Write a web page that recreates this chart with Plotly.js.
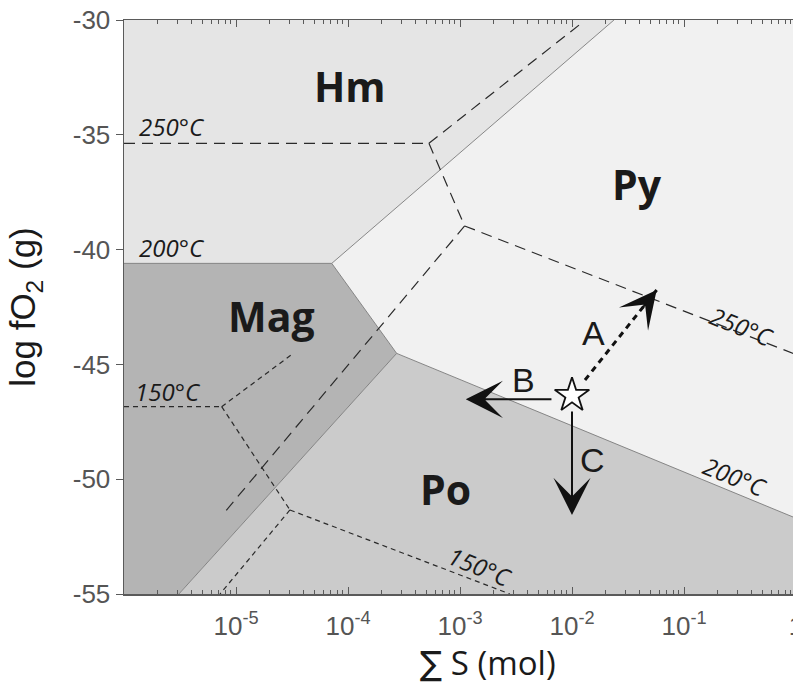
<!DOCTYPE html>
<html>
<head>
<meta charset="utf-8">
<script src="https://cdn.plot.ly/plotly-3.0.1.min.js"></script>
<style>
  html, body { margin: 0; padding: 0; overflow: hidden; background: #fff; }
  #chart { width: 800px; height: 686px; }
</style>
</head>
<body>
<div id="chart"></div>
<script>
// Fe–S–O stability fields: log fO2 (g) vs total sulfur (mol)

// Stability field polygons at 200 °C (S in mol, log fO2)
const hmS   = [1e-6, 0.0237, 7.16e-5, 1e-6];
const hmO2  = [-30, -30, -40.6, -40.6];
const pyS   = [0.0237, 1, 1, 2.72e-4, 7.16e-5];
const pyO2  = [-30, -30, -51.7, -44.52, -40.6];
const magS  = [1e-6, 7.16e-5, 2.72e-4, 3.09e-6, 1e-6];
const magO2 = [-40.6, -40.6, -44.52, -55, -55];
const poS   = [3.09e-6, 2.72e-4, 1, 1];
const poO2  = [-55, -44.52, -51.7, -55];

// 200 °C field boundaries
const b200S  = [[1e-6, 7.16e-5], [7.16e-5, 0.0237], [7.16e-5, 2.72e-4], [2.72e-4, 1], [2.72e-4, 3.09e-6]];
const b200O2 = [[-40.6, -40.6], [-40.6, -30], [-40.6, -44.52], [-44.52, -51.7], [-44.52, -55]];

// 250 °C boundaries
const b250S  = [[1e-6, 5.28e-4], [5.28e-4, 0.0117], [5.28e-4, 1.10e-3], [1.10e-3, 1], [1.10e-3, 7.55e-6]];
const b250O2 = [[-35.37, -35.37], [-35.37, -30.2], [-35.37, -38.97], [-38.97, -44.57], [-38.97, -51.56]];

// 150 °C boundaries
const b150S  = [[1e-6, 7.45e-6], [7.45e-6, 3.25e-5], [7.45e-6, 3.03e-5], [3.03e-5, 7.2e-6], [3.03e-5, 2.79e-3]];
const b150O2 = [[-46.84, -46.84], [-46.84, -44.52], [-46.84, -51.34], [-51.34, -55], [-51.34, -55]];

// Starting fluid composition and the three paths away from it
const startS = [0.01];
const startO2 = [-46.35];
const pathAS  = [0.01306, 0.0570];   // tail, head
const pathAO2 = [-45.68, -41.76];
const pathBS  = [6.76e-3, 1.125e-3];
const pathBO2 = [-46.52, -46.52];
const pathCS  = [0.01, 0.01];
const pathCO2 = [-46.99, -51.56];

// Text labels
const phaseNames = ['Hm', 'Py', 'Mag', 'Po'];
const phaseS     = [1.04e-4, 0.038, 2.09e-5, 7.35e-4];
const phaseO2    = [-32.87, -37.14, -42.89, -50.43];

const tLeftText = ['250°C', '200°C', '150°C'];
const tLeftS    = [1.31e-6, 1.31e-6, 1.2e-6];
const tLeftO2   = [-34.66, -39.89, -46.19];

const tLineText  = ['250°C', '200°C', '150°C'];
const tLineS     = [0.33, 0.285, 1.51e-3];
const tLineO2    = [-43.33, -49.9, -53.82];

const pathNames = ['A', 'B', 'C'];
const pathLblS  = [0.0154, 3.66e-3, 0.0151];
const pathLblO2 = [-43.63, -45.68, -49.16];

// Axis ticks
const xTickVals = [1e-5, 1e-4, 1e-3, 1e-2, 1e-1, 1];
const xTickText = ['10<sup>-5</sup>', '10<sup>-4</sup>', '10<sup>-3</sup>', '10<sup>-2</sup>', '10<sup>-1</sup>', '1'];
const yTickVals = [-55, -50, -45, -40, -35, -30];
const yTickText = ['-55', '-50', '-45', '-40', '-35', '-30'];

const xMinor = [];
for (let e = -6; e < 0; e++) {
  for (let m = 2; m <= 9; m++) xMinor.push(m * Math.pow(10, e));
}

const LOG = Math.log10;
const traces = [];

function field(xs, ys, color) {
  traces.push({
    type: 'scatter', mode: 'lines', x: xs, y: ys, fill: 'toself',
    fillcolor: color, line: { width: 0, color: color }, hoverinfo: 'skip', showlegend: false
  });
}
field(hmS, hmO2, '#e5e5e5');
field(pyS, pyO2, '#f1f1f1');
field(magS, magO2, '#b4b4b4');
field(poS, poO2, '#cbcbcb');

function boundaries(sets, o2sets, style) {
  sets.forEach((xs, i) => {
    traces.push({
      type: 'scatter', mode: 'lines', x: xs, y: o2sets[i],
      line: style, hoverinfo: 'skip', showlegend: false
    });
  });
}
boundaries(b200S, b200O2, { color: '#7a7a7a', width: 0.9 });
boundaries(b250S, b250O2, { color: '#2a2a2a', width: 1.2, dash: '11px,7px' });
boundaries(b150S, b150O2, { color: '#2a2a2a', width: 1.2, dash: '5px,4px' });

// Path A: dashed shaft
traces.push({
  type: 'scatter', mode: 'lines', x: pathAS, y: pathAO2,
  line: { color: '#111', width: 3, dash: '6px,5px' }, hoverinfo: 'skip', showlegend: false
});

// Starting point
traces.push({
  type: 'scatter', mode: 'markers', x: startS, y: startO2,
  marker: { symbol: 'star', size: 26, color: '#ffffff', line: { color: '#111', width: 1.8 } },
  hoverinfo: 'skip', showlegend: false
});

const annotations = [];

// Arrow heads / arrows
(function () {
  const tip = [LOG(pathAS[1]), pathAO2[1]];
  const tail = [LOG(pathAS[0]), pathAO2[0]];
  const f = 0.22;
  annotations.push({
    x: tip[0], y: tip[1], ax: tip[0] + (tail[0] - tip[0]) * f, ay: tip[1] + (tail[1] - tip[1]) * f,
    xref: 'x', yref: 'y', axref: 'x', ayref: 'y', text: '', showarrow: true,
    arrowhead: 3, arrowsize: 3.1, arrowwidth: 2, arrowcolor: '#111', standoff: 0
  });
})();
[[pathBS, pathBO2], [pathCS, pathCO2]].forEach(([xs, ys]) => {
  annotations.push({
    x: LOG(xs[1]), y: ys[1], ax: LOG(xs[0]), ay: ys[0],
    xref: 'x', yref: 'y', axref: 'x', ayref: 'y', text: '', showarrow: true,
    arrowhead: 3, arrowsize: 3.1, arrowwidth: 2, arrowcolor: '#111', standoff: 0
  });
});

phaseNames.forEach((t, i) => annotations.push({
  x: LOG(phaseS[i]), y: phaseO2[i], xref: 'x', yref: 'y', text: '<b>' + t + '</b>', showarrow: false,
  font: { family: 'Open Sans', size: 41, color: '#1a1a1a' }
}));
tLeftText.forEach((t, i) => annotations.push({
  x: LOG(tLeftS[i]), y: tLeftO2[i], xref: 'x', yref: 'y', text: '<i>' + t + '</i>', showarrow: false,
  xanchor: 'left', font: { family: 'Open Sans', size: 24, color: '#1a1a1a' }
}));
tLineText.forEach((t, i) => annotations.push({
  x: LOG(tLineS[i]), y: tLineO2[i], xref: 'x', yref: 'y', text: '<i>' + t + '</i>', showarrow: false,
  textangle: 22, font: { family: 'Open Sans', size: 24, color: '#1a1a1a' }
}));
pathNames.forEach((t, i) => annotations.push({
  x: LOG(pathLblS[i]), y: pathLblO2[i], xref: 'x', yref: 'y', text: t, showarrow: false,
  font: { family: 'Liberation Sans', size: 34, color: '#1a1a1a' }
}));

// x-axis title
annotations.push({
  x: 0.5417, y: -0.12, xref: 'paper', yref: 'paper', xanchor: 'center', yanchor: 'middle',
  text: '<span style="font-family:DejaVu Sans">∑</span> S (mol)', showarrow: false,
  font: { family: 'Open Sans', size: 33, color: '#1a1a1a' }
});

const axisColor = '#5a5a5a';
const layout = {
  width: 800, height: 686,
  margin: { l: 124, r: 4, t: 20, b: 92 },
  paper_bgcolor: '#ffffff', plot_bgcolor: '#ffffff',
  showlegend: false,
  xaxis: {
    type: 'log', range: [-6, 0], tickmode: 'array', tickvals: xTickVals, ticktext: xTickText,
    ticks: 'inside', ticklen: 7, tickwidth: 1, tickcolor: axisColor,
    minor: { tickmode: 'array', tickvals: xMinor, ticks: 'inside', ticklen: 4, tickwidth: 1, tickcolor: axisColor, showgrid: false },
    showline: true, linecolor: axisColor, linewidth: 1.5, mirror: 'ticks',
    showgrid: false, zeroline: false, ticklabelstandoff: 8, ticklabeloverflow: 'allow',
    tickfont: { family: 'Liberation Sans', size: 26, color: '#555' }
  },
  yaxis: {
    range: [-55, -30], tickmode: 'array', tickvals: yTickVals, ticktext: yTickText,
    ticks: 'outside', ticklen: 7, tickwidth: 1, tickcolor: axisColor,
    showline: true, linecolor: axisColor, linewidth: 1.5, mirror: true,
    showgrid: false, zeroline: false,
    tickfont: { family: 'Liberation Sans', size: 26, color: '#555' },
    title: { text: 'log fO<sub>2</sub> (g)', font: { family: 'Liberation Sans', size: 35, color: '#1a1a1a' }, standoff: 26 }
  },
  yaxis2: {
    overlaying: 'y', side: 'right', range: [-55, -30], tickmode: 'array', tickvals: yTickVals,
    ticks: 'inside', ticklen: 6, tickcolor: axisColor, showticklabels: false,
    showline: false, showgrid: false, zeroline: false
  },
  annotations: annotations
};

Plotly.newPlot('chart', traces, layout, { displayModeBar: false, staticPlot: true });
</script>
</body>
</html>
